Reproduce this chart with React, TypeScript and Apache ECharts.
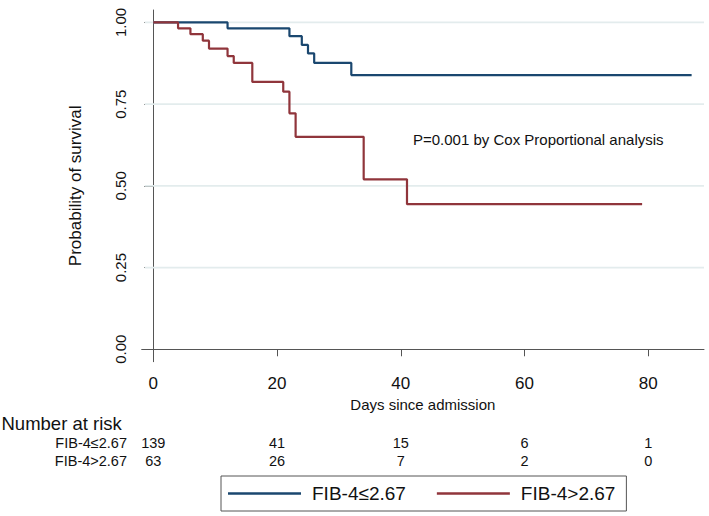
import React, { useEffect, useRef } from "react";
import * as echarts from "echarts";

const blueDays = [0, 12, 22, 24, 25, 26, 32, 87];
const blueSurv = [1, 0.982, 0.958, 0.931, 0.905, 0.876, 0.839, 0.839];
const redDays = [0, 4, 6, 8, 9, 12, 13, 16, 21, 22, 23, 34, 41, 79];
const redSurv = [1, 0.982, 0.964, 0.944, 0.92, 0.897, 0.876, 0.818, 0.788, 0.722, 0.65, 0.52, 0.444, 0.444];
const xTicks = [0, 20, 40, 60, 80];
const yTicks = [0, 0.25, 0.5, 0.75, 1];
const gridValues = [0.25, 0.5, 0.75, 1];
const groups = ["FIB-4≤2.67", "FIB-4>2.67"];
const riskTimes = [0, 20, 40, 60, 80];
const riskLow = [139, 41, 15, 6, 1];
const riskHigh = [63, 26, 7, 2, 0];

const X_MIN = -1.875;
const X_MAX = 89;
const FONT = "'Liberation Sans', Arial, sans-serif";
const BLUE = "#1a476f";
const RED = "#90353b";
const TXT = "#111111";
const AXIS = "#555555";
const GRID = "#e3eced";

export default function App() {
  const ref = useRef<HTMLDivElement>(null);
  useEffect(() => {
    if (!ref.current) return;
    const chart = echarts.init(ref.current, undefined, { renderer: "svg" });
    const zip = (a: number[], b: number[]) => a.map((v, i) => [v, b[i]]);
    const gridSeries = gridValues.map((v) => ({
      name: "grid" + v,
      type: "line",
      data: [
        [X_MIN + 0.5, v],
        [X_MAX, v],
      ],
      symbol: "none",
      silent: true,
      z: 1,
      color: GRID,
      lineStyle: { color: GRID, width: 1.8 },
    }));
    chart.setOption({
      animation: false,
      backgroundColor: "#ffffff",
      textStyle: { fontFamily: FONT },
      grid: { left: 141.7, right: 5, top: 10, bottom: 154.3 },
      xAxis: {
        type: "value",
        min: X_MIN,
        max: X_MAX,
        name: "Days since admission",
        nameLocation: "middle",
        nameGap: 32,
        nameTextStyle: { fontSize: 15, color: TXT, fontFamily: FONT },
        axisLine: { show: true, lineStyle: { color: AXIS, width: 1 } },
        axisTick: { show: true, length: 7, lineStyle: { color: AXIS }, customValues: xTicks },
        axisLabel: { fontSize: 17, color: TXT, margin: 13, fontFamily: FONT, customValues: xTicks },
        splitLine: { show: false },
      },
      yAxis: {
        type: "value",
        min: -0.038,
        max: 1.038,
        name: "Probability of survival",
        nameLocation: "middle",
        nameRotate: 90,
        nameGap: 58,
        nameTextStyle: { fontSize: 17, color: TXT, fontFamily: FONT },
        axisLine: { show: true, lineStyle: { color: AXIS, width: 1 } },
        axisTick: { show: true, length: 9, lineStyle: { color: AXIS }, customValues: yTicks },
        axisLabel: {
          fontSize: 15,
          color: TXT,
          rotate: 90,
          margin: 14,
          fontFamily: FONT,
          customValues: yTicks,
          formatter: (v: number) => v.toFixed(2),
        },
        splitLine: { show: false },
      },
      legend: {
        left: 221,
        top: 476,
        orient: "horizontal",
        data: groups,
        icon: "rect",
        padding: [7, 11, 7, 7],
        itemWidth: 73,
        itemHeight: 2.4,
        itemGap: 31,
        borderColor: AXIS,
        borderWidth: 1,
        textStyle: { fontSize: 19, color: TXT, fontFamily: FONT, lineHeight: 21, padding: [0, 0, 0, 6] },
      },
      series: [
        ...gridSeries,
        {
          name: groups[0],
          type: "line",
          step: "end",
          symbol: "none",
          z: 3,
          color: BLUE,
          lineStyle: { color: BLUE, width: 2.2 },
          data: zip(blueDays, blueSurv),
        },
        {
          name: groups[1],
          type: "line",
          step: "end",
          symbol: "none",
          z: 4,
          color: RED,
          lineStyle: { color: RED, width: 2.2 },
          data: zip(redDays, redSurv),
        },
      ],
    });

    const px = (t: number) => chart.convertToPixel({ xAxisIndex: 0 }, t) as number;
    const tableFont = { fontSize: 14.5, fill: TXT, fontFamily: FONT };
    const cells: any[] = [];
    riskTimes.forEach((t, i) => {
      cells.push({
        type: "text",
        x: px(t),
        y: 443,
        style: { text: String(riskLow[i]), align: "center", verticalAlign: "middle", ...tableFont },
      });
      cells.push({
        type: "text",
        x: px(t),
        y: 460.7,
        style: { text: String(riskHigh[i]), align: "center", verticalAlign: "middle", ...tableFont },
      });
    });
    chart.setOption({
      graphic: [
        {
          type: "text",
          x: 413,
          y: 139,
          style: {
            text: "P=0.001 by Cox Proportional analysis",
            fontSize: 15,
            fill: TXT,
            fontFamily: FONT,
            verticalAlign: "middle",
          },
        },
        {
          type: "text",
          x: 1.5,
          y: 423,
          style: { text: "Number at risk", fontSize: 18.5, fill: TXT, fontFamily: FONT, verticalAlign: "middle" },
        },
        {
          type: "text",
          x: 127,
          y: 443,
          style: { text: groups[0], align: "right", verticalAlign: "middle", ...tableFont },
        },
        {
          type: "text",
          x: 127,
          y: 460.7,
          style: { text: groups[1], align: "right", verticalAlign: "middle", ...tableFont },
        },
        ...cells,
      ],
    });
    return () => chart.dispose();
  }, []);
  return (
    <div
      ref={ref}
      style={{ position: "fixed", left: 0, top: 0, width: 709, height: 516, background: "#fff" }}
    />
  );
}
